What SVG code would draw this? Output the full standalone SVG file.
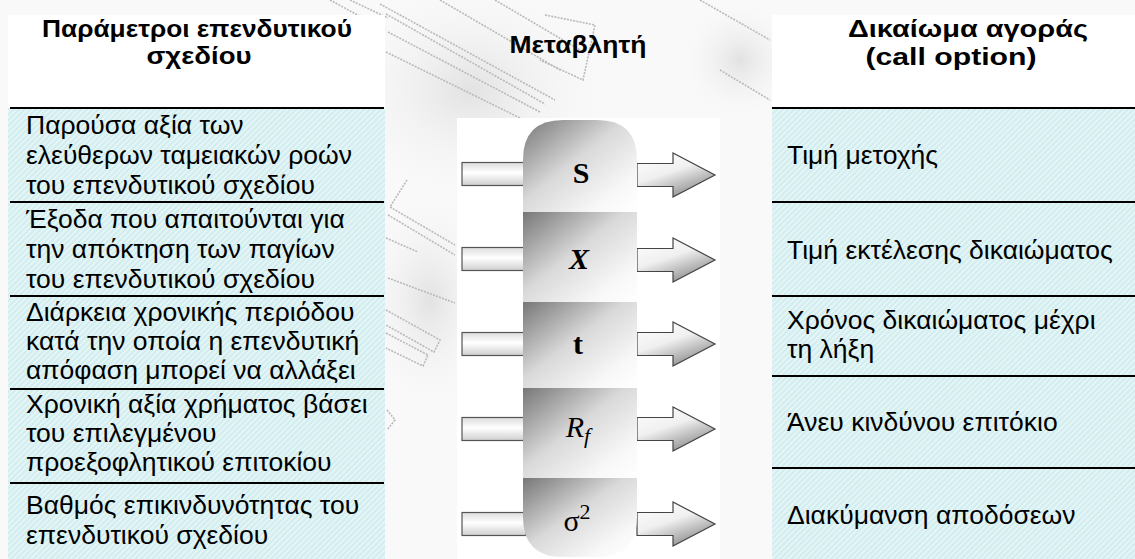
<svg xmlns="http://www.w3.org/2000/svg" width="1135" height="559" viewBox="0 0 1135 559">
<defs>
  <pattern id="hatch" width="4" height="4" patternUnits="userSpaceOnUse" patternTransform="rotate(-45)">
    <rect width="4" height="4" fill="#d2edef"/>
    <rect width="4" height="1.6" fill="#e9f7f8"/>
  </pattern>
  <linearGradient id="cellG" x1="0" y1="0" x2="1" y2="1">
    <stop offset="0" stop-color="#777"/>
    <stop offset="0.45" stop-color="#d9d9d9"/>
    <stop offset="0.8" stop-color="#f8f8f8"/>
    <stop offset="1" stop-color="#fff"/>
  </linearGradient>
  <linearGradient id="barG" x1="0" y1="0" x2="0" y2="1">
    <stop offset="0" stop-color="#dcdcdc"/>
    <stop offset="0.45" stop-color="#ffffff"/>
    <stop offset="1" stop-color="#cfcfcf"/>
  </linearGradient>
  <linearGradient id="arrG" x1="0" y1="0" x2="0.6" y2="1">
    <stop offset="0" stop-color="#ffffff"/>
    <stop offset="0.5" stop-color="#f0f0f0"/>
    <stop offset="1" stop-color="#909090"/>
  </linearGradient>
  <radialGradient id="blob" cx="0.5" cy="0.5" r="0.5">
    <stop offset="0" stop-color="#e2e2e2"/>
    <stop offset="1" stop-color="#f7f7f7" stop-opacity="0"/>
  </radialGradient>
  <g id="inBar"><rect x="462" y="-11.5" width="64" height="23" fill="url(#barG)" stroke="#555" stroke-width="1.2"/></g>
  <g id="outArr"><path d="M637,-11.5 H673 V-22 L715,0 L673,22 V11.5 H637 Z" fill="url(#arrG)" stroke="#444" stroke-width="1.2" stroke-linejoin="miter"/></g>
</defs>
<style>
  .hdr{font-family:"Liberation Sans",Arial,sans-serif;font-size:23px;font-weight:bold;fill:#000;text-anchor:middle}
  .txt{font-family:"Liberation Sans",Arial,sans-serif;font-size:26.5px;fill:#000}
  .sym{font-family:"Liberation Serif","Times New Roman",serif;font-size:30px;fill:#000;text-anchor:middle}
  .sep{stroke:#000;stroke-width:2.2}
  .wm{fill:none;stroke:#b9b9b9;stroke-width:1.6;stroke-dasharray:2 1.2}
</style>

<!-- background with faint watermark -->
<rect width="1135" height="559" fill="#f9f9f9"/>
<g id="watermark">
  <ellipse cx="470" cy="90" rx="140" ry="110" fill="url(#blob)"/>
  <ellipse cx="430" cy="300" rx="70" ry="110" fill="url(#blob)"/>
  <ellipse cx="740" cy="60" rx="60" ry="60" fill="url(#blob)"/>
  <path class="wm" d="M380,4 L555,100"/>
  <path class="wm" d="M386,14 L545,104"/>
  <path class="wm" d="M388,32 L540,112"/>
  <path class="wm" d="M386,52 L520,118"/>
  <path class="wm" d="M440,0 L560,70"/>
  <path class="wm" d="M495,0 L580,50"/>
  <path class="wm" d="M545,15 L595,25 L583,80 L540,60"/>
  <path class="wm" d="M330,0 L385,30"/>
  <path class="wm" d="M350,0 L388,18"/>
  <path class="wm" d="M407,180 L390,207 L455,245"/>
  <path class="wm" d="M388,215 L455,255"/>
  <path class="wm" d="M386,238 L418,252"/>
  <path class="wm" d="M388,278 L455,303"/>
  <path class="wm" d="M386,310 L440,340 L434,352 L386,325"/>
  <path class="wm" d="M386,333 L428,355 L423,366 L386,348"/>
  <path class="wm" d="M387,410 L395,420 L387,430"/>
  <path class="wm" d="M700,0 L770,40"/>
  <path class="wm" d="M720,70 L770,100"/>
</g>

<!-- left column -->
<g id="left-column">
  <rect x="8" y="15" width="377" height="93" fill="#fff"/>
  <rect x="8" y="108" width="377" height="451" fill="url(#hatch)"/>
  <text class="hdr" x="197" y="37" textLength="310" lengthAdjust="spacingAndGlyphs">Παράμετροι επενδυτικού</text>
  <text class="hdr" x="199" y="64" textLength="105" lengthAdjust="spacingAndGlyphs">σχεδίου</text>
  <line class="sep" x1="10" y1="108" x2="384" y2="108"/>
  <line class="sep" x1="10" y1="202" x2="384" y2="202"/>
  <line class="sep" x1="10" y1="296" x2="384" y2="296"/>
  <line class="sep" x1="10" y1="389" x2="384" y2="389"/>
  <line class="sep" x1="10" y1="483" x2="384" y2="483"/>
</g>
<g id="param-pv">
  <text class="txt" x="26" y="134">Παρούσα αξία των</text>
  <text class="txt" x="26" y="164">ελεύθερων ταμειακών ροών</text>
  <text class="txt" x="26" y="194">του επενδυτικού σχεδίου</text>
</g>
<g id="param-cost">
  <text class="txt" x="26" y="228">Έξοδα που απαιτούνται για</text>
  <text class="txt" x="26" y="258">την απόκτηση των παγίων</text>
  <text class="txt" x="26" y="288">του επενδυτικού σχεδίου</text>
</g>
<g id="param-time">
  <text class="txt" x="26" y="321">Διάρκεια χρονικής περιόδου</text>
  <text class="txt" x="26" y="350">κατά την οποία η επενδυτική</text>
  <text class="txt" x="26" y="379">απόφαση μπορεί να αλλάξει</text>
</g>
<g id="param-rate">
  <text class="txt" x="26" y="413">Χρονική αξία χρήματος βάσει</text>
  <text class="txt" x="26" y="442">του επιλεγμένου</text>
  <text class="txt" x="26" y="471">προεξοφλητικού επιτοκίου</text>
</g>
<g id="param-risk">
  <text class="txt" x="26" y="514">Βαθμός επικινδυνότητας του</text>
  <text class="txt" x="26" y="544">επενδυτικού σχεδίου</text>
</g>

<!-- right column -->
<g id="right-column">
  <rect x="772" y="15" width="363" height="93" fill="#fff"/>
  <rect x="772" y="108" width="363" height="451" fill="url(#hatch)"/>
  <text class="hdr" x="968" y="37" textLength="240" lengthAdjust="spacingAndGlyphs">Δικαίωμα αγοράς</text>
  <text class="hdr" x="951" y="65" textLength="171" lengthAdjust="spacingAndGlyphs">(call option)</text>
  <line class="sep" x1="772" y1="108" x2="1135" y2="108"/>
  <line class="sep" x1="772" y1="202" x2="1135" y2="202"/>
  <line class="sep" x1="772" y1="296" x2="1135" y2="296"/>
  <line class="sep" x1="772" y1="376" x2="1135" y2="376"/>
  <line class="sep" x1="772" y1="468" x2="1135" y2="468"/>
</g>
<g id="opt-price"><text class="txt" x="787" y="164">Τιμή μετοχής</text></g>
<g id="opt-strike"><text class="txt" x="787" y="259">Τιμή εκτέλεσης δικαιώματος</text></g>
<g id="opt-time">
  <text class="txt" x="787" y="329">Χρόνος δικαιώματος μέχρι</text>
  <text class="txt" x="787" y="358">τη λήξη</text>
</g>
<g id="opt-rf"><text class="txt" x="787" y="431">Άνευ κινδύνου επιτόκιο</text></g>
<g id="opt-var"><text class="txt" x="787" y="524">Διακύμανση αποδόσεων</text></g>

<!-- centre column -->
<text class="hdr" x="578" y="53" textLength="137" lengthAdjust="spacingAndGlyphs">Μεταβλητή</text>
<rect x="457" y="118" width="263" height="441" fill="#fff"/>

<g id="connectors">
  <use href="#inBar" y="174"/>
  <use href="#inBar" y="259"/>
  <use href="#inBar" y="344"/>
  <use href="#inBar" y="429"/>
  <use href="#inBar" y="524"/>
  <use href="#outArr" y="175"/>
  <use href="#outArr" y="260"/>
  <use href="#outArr" y="344"/>
  <use href="#outArr" y="429"/>
  <use href="#outArr" y="524"/>
</g>

<g id="var-S">
  <path d="M523,212 V160 Q523,120 563,120 H597 Q637,120 637,160 V212 Z" fill="url(#cellG)"/>
  <text class="sym" x="581" y="183" font-weight="bold">S</text>
</g>
<g id="var-X">
  <rect x="523" y="212" width="114" height="90" fill="url(#cellG)"/>
  <text class="sym" x="579" y="269" font-weight="bold" font-style="italic">X</text>
</g>
<g id="var-t">
  <rect x="523" y="302" width="114" height="86" fill="url(#cellG)"/>
  <text class="sym" x="578" y="354" font-weight="bold">t</text>
</g>
<g id="var-Rf">
  <rect x="523" y="388" width="114" height="90" fill="url(#cellG)"/>
  <text class="sym" x="578" y="437" font-style="italic">R<tspan font-size="22" dy="6">f</tspan></text>
</g>
<g id="var-sigma">
  <path d="M523,478 H637 V517 Q637,557 597,557 H563 Q523,557 523,517 Z" fill="url(#cellG)"/>
  <text class="sym" x="577" y="531">σ<tspan font-size="22" dy="-12">2</tspan></text>
</g>
</svg>
